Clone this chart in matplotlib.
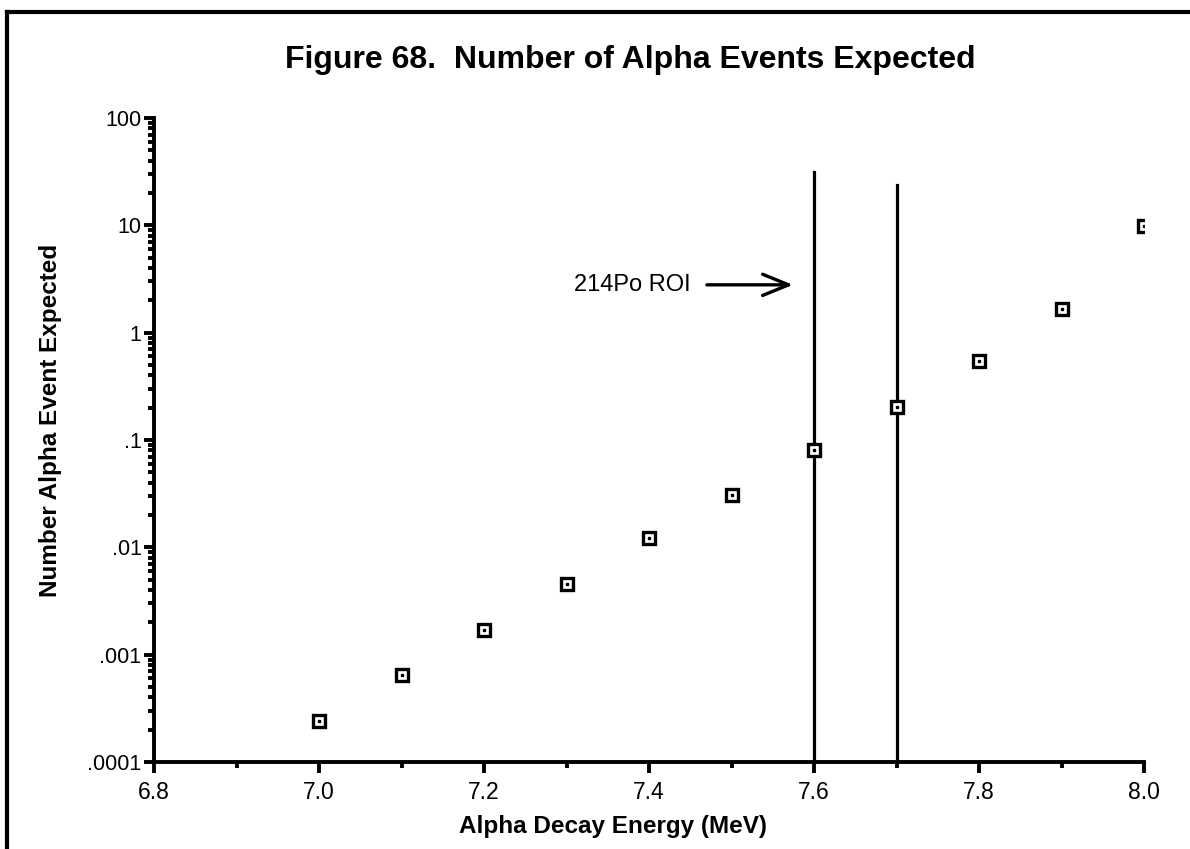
import numpy as np
import matplotlib
matplotlib.use("Agg")
import matplotlib.pyplot as plt
from matplotlib.lines import Line2D
from matplotlib.ticker import FixedLocator, FixedFormatter, LogLocator, NullFormatter

# Data
energy = [7.0, 7.1, 7.2, 7.3, 7.4, 7.5, 7.6, 7.7, 7.8, 7.9, 8.0]
events = [2.4e-4, 6.5e-4, 1.7e-3, 4.6e-3, 1.22e-2, 3.1e-2, 8.0e-2, 0.205, 0.55, 1.65, 9.9]

# ROI boundaries and how high the lines were drawn
roi_x = [7.6, 7.7]
roi_top = [31.5, 24.0]

xticks = [6.8, 7.0, 7.2, 7.4, 7.6, 7.8, 8.0]
xtick_labels = ["6.8", "7.0", "7.2", "7.4", "7.6", "7.8", "8.0"]
xminor = [6.9, 7.1, 7.3, 7.5, 7.7, 7.9]
yticks = [1e-4, 1e-3, 1e-2, 1e-1, 1, 10, 100]
ytick_labels = [".0001", ".001", ".01", ".1", "1", "10", "100"]

plt.rcParams["font.family"] = ["Liberation Sans", "DejaVu Sans"]

W, H = 1190, 849
fig = plt.figure(figsize=(W / 100, H / 100), dpi=100)
ax = fig.add_axes([154 / W, 1 - 762 / H, 990 / W, 644 / H])

ax.set_yscale("log")
ax.set_xlim(6.8, 8.0)
ax.set_ylim(1e-4, 100)

# ROI vertical lines
for x, top in zip(roi_x, roi_top):
    ax.plot([x, x], [1e-4, top], color="black", linewidth=2.3, zorder=2)

# square markers with a dot in the middle
ax.plot(energy, events, linestyle="none", marker="s", markersize=8,
        markerfacecolor="white", markeredgecolor="black", markeredgewidth=2.4,
        zorder=3)
ax.plot(energy, events, linestyle="none", marker="s", markersize=2,
        color="black", zorder=4)

# annotation
ax.annotate("214Po ROI", xy=(7.5745, 2.79), xytext=(7.45, 2.79),
            fontsize=17, ha="right", va="center",
            arrowprops=dict(arrowstyle="->,head_length=1.1,head_width=0.45",
                            color="black", linewidth=2.4,
                            shrinkA=10, shrinkB=0))

# axes styling
for side in ["top", "right"]:
    ax.spines[side].set_visible(False)
for side in ["left", "bottom"]:
    ax.spines[side].set_linewidth(2.8)

ax.xaxis.set_major_locator(FixedLocator(xticks))
ax.xaxis.set_major_formatter(FixedFormatter(xtick_labels))
ax.xaxis.set_minor_locator(FixedLocator(xminor))
ax.yaxis.set_major_locator(FixedLocator(yticks))
ax.yaxis.set_major_formatter(FixedFormatter(ytick_labels))
ax.yaxis.set_minor_locator(LogLocator(base=10, subs=np.arange(2, 10)))
ax.yaxis.set_minor_formatter(NullFormatter())

ax.tick_params(axis="x", which="major", direction="out", length=8,
               width=2.8, labelsize=16.5, pad=6)
ax.tick_params(axis="y", which="major", direction="out", length=7,
               width=2.8, labelsize=15.5, pad=2)
ax.tick_params(axis="both", which="minor", direction="out", length=4.5,
               width=2.8)

ax.set_xlabel("Alpha Decay Energy (MeV)", fontsize=17.5, fontweight="bold")
ax.xaxis.set_label_coords(0.4636, -0.10)
ax.xaxis.label.set_va("center")
ax.set_ylabel("Number Alpha Event Expected", fontsize=17.5, fontweight="bold")
ax.yaxis.set_label_coords(-0.105, 0.531)
ax.yaxis.label.set_va("center")

fig.text(630 / W, 1 - 60 / H, "Figure 68.  Number of Alpha Events Expected",
         ha="center", va="center", fontsize=23, fontweight="bold")

# frame lines around the page (left and top only)
fig.add_artist(Line2D([7 / W, 7 / W], [0, 1 - 12 / H], color="black",
                      linewidth=3, transform=fig.transFigure))
fig.add_artist(Line2D([7 / W, 1], [1 - 12 / H, 1 - 12 / H], color="black",
                      linewidth=3, transform=fig.transFigure))

fig.savefig("out.png", dpi=100, facecolor="white")
